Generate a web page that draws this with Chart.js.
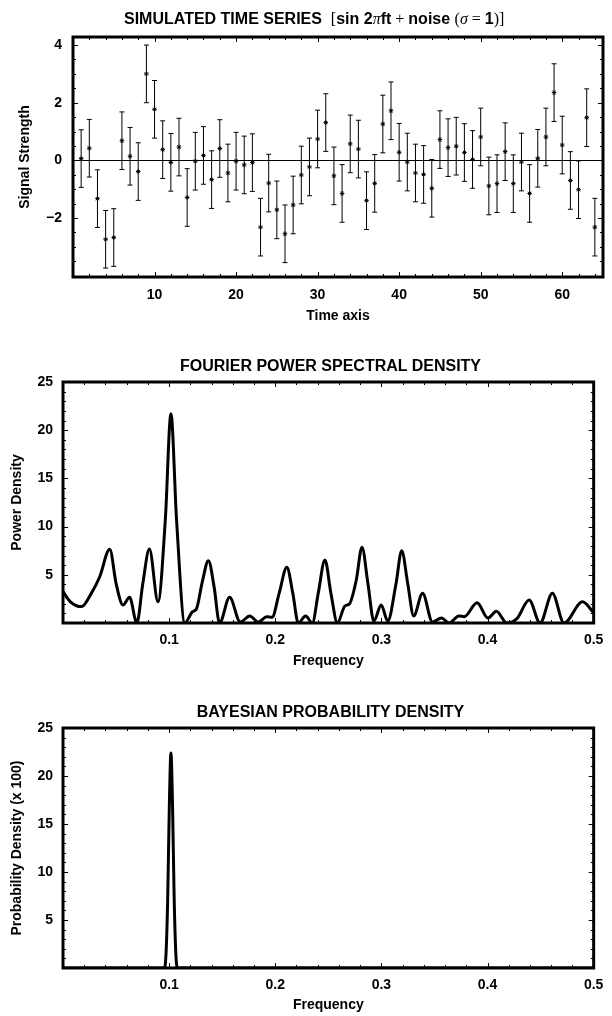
<!DOCTYPE html>
<html>
<head>
<meta charset="utf-8">
<script src="https://cdn.jsdelivr.net/npm/chart.js"></script>
<style>
  body { margin: 0; background: #fff; }
  #page { position: relative; width: 612px; height: 1016px; overflow: hidden; }
  canvas { position: absolute; left: 0; }
  .title { position: absolute; height: 20px; line-height: 20px; white-space: nowrap; color: #000;
           font: bold 16px "Liberation Sans", Arial, sans-serif; }
  .title .s { font: 16px "Liberation Serif", "Times New Roman", serif; }
</style>
</head>
<body>
<div id="page">
  <canvas id="seriesChart" width="612" height="345" style="top:0"></canvas>
  <canvas id="fourierChart" width="612" height="335" style="top:345px"></canvas>
  <canvas id="bayesChart" width="612" height="336" style="top:680px"></canvas>

  <div class="title" style="left:124px;top:10px">SIMULATED TIME SERIES&nbsp;&nbsp;<span class="s">[</span>sin 2<span class="s"><i>π</i></span>ft<span class="s"> + </span>noise <span class="s">(<i>σ</i> = </span>1<span class="s">)]</span></div>
  <div class="title" style="left:63px;top:357px;width:535px;text-align:center">FOURIER POWER SPECTRAL DENSITY</div>
  <div class="title" style="left:63px;top:703px;width:535px;text-align:center">BAYESIAN PROBABILITY DENSITY</div>
</div>

<script>
// DATA - time series
const times = [1, 2, 3, 4, 5, 6, 7, 8, 9, 10, 11, 12, 13, 14, 15, 16,
  17, 18, 19, 20, 21, 22, 23, 24, 25, 26, 27, 28, 29, 30, 31, 32,
  33, 34, 35, 36, 37, 38, 39, 40, 41, 42, 43, 44, 45, 46, 47, 48,
  49, 50, 51, 52, 53, 54, 55, 56, 57, 58, 59, 60, 61, 62, 63, 64];
const signal = [0.06, 0.42, -1.33, -2.74, -2.68, 0.68, 0.14, -0.39, 3.0, 1.77, 0.37, -0.07, 0.46, -1.29, -0.03, 0.17,
  -0.67, 0.41, -0.44, -0.03, -0.16, -0.08, -2.32, -0.79, -1.72, -2.55, -1.55, -0.51, -0.23, 0.74, 1.31, -0.54,
  -1.15, 0.57, 0.39, -1.40, -0.80, 1.26, 1.72, 0.28, -0.06, -0.44, -0.49, -0.97, 0.72, 0.44, 0.49, 0.27,
  0.03, 0.81, -0.89, -0.81, 0.30, -0.81, -0.06, -1.15, 0.07, 0.81, 2.35, 0.53, -0.70, -1.02, 1.48, -2.32];
const sigma = [1, 1, 1, 1, 1, 1, 1, 1, 1, 1, 1, 1, 1, 1, 1, 1,
  1, 1, 1, 1, 1, 1, 1, 1, 1, 1, 1, 1, 1, 1, 1, 1,
  1, 1, 1, 1, 1, 1, 1, 1, 1, 1, 1, 1, 1, 1, 1, 1,
  1, 1, 1, 1, 1, 1, 1, 1, 1, 1, 1, 1, 1, 1, 1, 1];
const timeTicks = [10, 20, 30, 40, 50, 60];
const signalTicks = [-2, 0, 2, 4];

// DATA - fourier power spectrum
const freqs = [0, 0.007, 0.0175, 0.0268, 0.0346, 0.044, 0.0502, 0.0565, 0.0627, 0.0696, 0.0752, 0.0814,
  0.0895, 0.0964, 0.1017, 0.107, 0.1148, 0.122, 0.1257, 0.1313, 0.137, 0.1423, 0.1475, 0.157,
  0.167, 0.176, 0.184, 0.192, 0.197, 0.2037, 0.2109, 0.2165, 0.2217, 0.2286, 0.2349, 0.2405,
  0.2468, 0.2524, 0.2586, 0.2655, 0.270, 0.2764, 0.2817, 0.2873, 0.2929, 0.2998, 0.306, 0.3138,
  0.3191, 0.3248, 0.3304, 0.3388, 0.3481, 0.3566, 0.3637, 0.3731, 0.378, 0.3902, 0.4003, 0.4083,
  0.4183, 0.4277, 0.4392, 0.4495, 0.4611, 0.4720, 0.4895, 0.5];
const power = [3.25, 2.2, 1.7, 3.1, 4.8, 7.64, 4.0, 1.87, 2.66, 0, 4.1, 7.67,
  2.2, 10.7, 21.7, 10.7, 0, 1.17, 1.45, 4.3, 6.47, 3.8, 0, 2.66,
  0.1, 0.73, 0.1, 0.66, 0.6, 3.1, 5.78, 3.1, 0, 0.73, 0, 3.1,
  6.54, 3.1, 0, 1.76, 2.0, 4.5, 7.85, 4.1, 0.2, 1.87, 0.2, 4.1,
  7.5, 4.1, 0.73, 3.08, 0.1, 0.52, 0, 0.73, 0.66, 2.1, 0.52, 1.21,
  0, 0.45, 2.38, 0, 3.08, 0, 2.2, 1.07];

// DATA - bayesian probability density (x 100)
const bayesFreqs = [0, 0.0957, 0.0972, 0.0987, 0.1002, 0.1017, 0.1032, 0.1047, 0.1062, 0.1077, 0.5];
const bayesDensity = [0, 0, 1.8, 7.5, 17, 22.4, 17, 7.5, 1.8, 0, 0];

const freqTicks = [0.1, 0.2, 0.3, 0.4, 0.5];
const densityTicks = [5, 10, 15, 20, 25];

Chart.defaults.font.family = '"Liberation Sans", Arial, sans-serif';
Chart.defaults.color = '#000';

const tickFont = { size: 14, weight: 'bold' };
const labelFont = { size: 14, weight: 'bold' };

function fixedTicks(list) {
  return function (scale) {
    scale.ticks = list.map(function (v) { return { value: v }; });
  };
}

function fmt(v) {
  return v < 0 ? '\u2212' + Math.abs(v) : String(v);
}

function isMajor(v, step) {
  return Math.abs(v / step - Math.round(v / step)) < 1e-6;
}

function makeScales(s) {
  return {
    x: {
      type: 'linear', min: s.xMin, max: s.xMax,
      grid: { display: false, drawTicks: false },
      border: { display: false },
      afterBuildTicks: fixedTicks(s.xTicks),
      afterFit: function (scale) { scale.height = s.xHeight; },
      ticks: { font: tickFont, padding: s.xPad, maxRotation: 0, autoSkip: false, callback: fmt },
      title: { display: true, text: s.xTitle, font: labelFont, padding: { top: 0, bottom: s.xTitlePad } }
    },
    y: {
      type: 'linear', min: s.yMin, max: s.yMax,
      grid: { display: false, drawTicks: false },
      border: { display: false },
      afterBuildTicks: fixedTicks(s.yTicks),
      afterFit: function (scale) { scale.width = s.yWidth; },
      ticks: { font: tickFont, padding: s.yPad, autoSkip: false, callback: fmt },
      title: { display: true, text: s.yTitle, font: labelFont, padding: { top: s.yTitlePad, bottom: 0 } }
    }
  };
}

// frame round the plot with ticks pointing inwards on all sides
const framePlugin = {
  id: 'frame',
  afterDraw: function (chart, args, o) {
    const ctx = chart.ctx, a = chart.chartArea;
    const xs = chart.scales.x, ys = chart.scales.y;
    ctx.save();
    ctx.strokeStyle = '#000';
    ctx.lineWidth = 1;
    ctx.beginPath();
    for (let i = Math.ceil(xs.min / o.xMinor - 1e-9); i * o.xMinor <= xs.max + 1e-9; i++) {
      const v = i * o.xMinor;
      const len = isMajor(v, o.xMajor) ? 5 : 3;
      const px = Math.round(xs.getPixelForValue(v)) + 0.5;
      ctx.moveTo(px, a.bottom); ctx.lineTo(px, a.bottom - len);
      ctx.moveTo(px, a.top); ctx.lineTo(px, a.top + len);
    }
    for (let i = Math.ceil(ys.min / o.yMinor - 1e-9); i * o.yMinor <= ys.max + 1e-9; i++) {
      const v = i * o.yMinor;
      const len = isMajor(v, o.yMajor) ? 5 : 3;
      const py = Math.round(ys.getPixelForValue(v)) + 0.5;
      ctx.moveTo(a.left, py); ctx.lineTo(a.left + len, py);
      ctx.moveTo(a.right, py); ctx.lineTo(a.right - len, py);
    }
    ctx.stroke();
    ctx.lineWidth = 3;
    ctx.strokeRect(a.left, a.top, a.right - a.left, a.bottom - a.top);
    ctx.restore();
  }
};

// error bars and the zero line of the time series
const errorBars = {
  id: 'errorBars',
  beforeDatasetsDraw: function (chart) {
    const ctx = chart.ctx, a = chart.chartArea;
    const xs = chart.scales.x, ys = chart.scales.y;
    ctx.save();
    ctx.strokeStyle = '#000';
    ctx.lineWidth = 1;
    const y0 = Math.round(ys.getPixelForValue(0)) + 0.5;
    ctx.beginPath();
    ctx.moveTo(a.left, y0); ctx.lineTo(a.right, y0);
    for (let i = 0; i < signal.length; i++) {
      const x = xs.getPixelForValue(times[i]);
      const yLo = ys.getPixelForValue(signal[i] - sigma[i]);
      const yHi = ys.getPixelForValue(signal[i] + sigma[i]);
      ctx.moveTo(x, yLo); ctx.lineTo(x, yHi);
      ctx.moveTo(x - 2.5, yLo); ctx.lineTo(x + 2.5, yLo);
      ctx.moveTo(x - 2.5, yHi); ctx.lineTo(x + 2.5, yHi);
    }
    ctx.stroke();
    ctx.restore();
  }
};

function basePlugins(frame) {
  return { legend: { display: false }, tooltip: { enabled: false }, frame: frame };
}

// TIME SERIES
new Chart(document.getElementById('seriesChart'), {
  type: 'scatter',
  data: {
    datasets: [{
      data: times.map(function (t, i) { return { x: t, y: signal[i] }; }),
      pointStyle: 'star',
      pointRadius: 2.3,
      borderColor: '#000',
      backgroundColor: '#000',
      borderWidth: 1
    }]
  },
  options: {
    responsive: false, animation: false, events: [],
    layout: { padding: { top: 37, right: 9, left: 0, bottom: 0 } },
    plugins: basePlugins({ xMinor: 2, xMajor: 10, yMinor: 0.5, yMajor: 2 }),
    scales: makeScales({
      xMin: 0, xMax: 65, xTicks: timeTicks, xHeight: 68, xPad: 9.6, xTitle: 'Time axis', xTitlePad: 20.6,
      yMin: -4.05, yMax: 4.28, yTicks: signalTicks, yWidth: 73, yPad: 11, yTitle: 'Signal Strength', yTitlePad: 16.6
    })
  },
  plugins: [errorBars, framePlugin]
});

// FOURIER
new Chart(document.getElementById('fourierChart'), {
  type: 'line',
  data: {
    datasets: [{
      data: freqs.map(function (f, i) { return { x: f, y: power[i] }; }),
      borderColor: '#000',
      borderWidth: 3,
      pointRadius: 0,
      cubicInterpolationMode: 'monotone',
      fill: false
    }]
  },
  options: {
    responsive: false, animation: false, events: [],
    layout: { padding: { top: 37, right: 14, left: 0, bottom: 0 } },
    plugins: basePlugins({ xMinor: 0.02, xMajor: 0.1, yMinor: 1, yMajor: 5 }),
    scales: makeScales({
      xMin: 0, xMax: 0.5, xTicks: freqTicks, xHeight: 57, xPad: 8.6, xTitle: 'Frequency', xTitlePad: 10.6,
      yMin: 0, yMax: 25, yTicks: densityTicks, yWidth: 63, yPad: 10, yTitle: 'Power Density', yTitlePad: 8.3
    })
  },
  plugins: [framePlugin]
});

// BAYESIAN
new Chart(document.getElementById('bayesChart'), {
  type: 'line',
  data: {
    datasets: [{
      data: bayesFreqs.map(function (f, i) { return { x: f, y: bayesDensity[i] }; }),
      borderColor: '#000',
      borderWidth: 3,
      pointRadius: 0,
      cubicInterpolationMode: 'monotone',
      fill: false
    }]
  },
  options: {
    responsive: false, animation: false, events: [],
    layout: { padding: { top: 48, right: 14, left: 0, bottom: 0 } },
    plugins: basePlugins({ xMinor: 0.02, xMajor: 0.1, yMinor: 1, yMajor: 5 }),
    scales: makeScales({
      xMin: 0, xMax: 0.5, xTicks: freqTicks, xHeight: 48, xPad: 8.6, xTitle: 'Frequency', xTitlePad: 2.6,
      yMin: 0, yMax: 25, yTicks: densityTicks, yWidth: 63, yPad: 10, yTitle: 'Probability Density (x 100)', yTitlePad: 8.3
    })
  },
  plugins: [framePlugin]
});
</script>
</body>
</html>
